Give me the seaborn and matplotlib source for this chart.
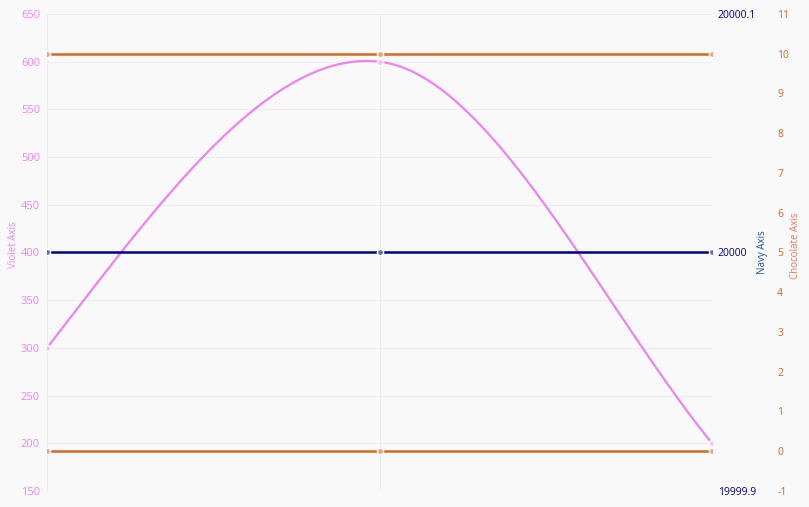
import numpy as np
import pandas as pd
import matplotlib
matplotlib.use("Agg")
import matplotlib.pyplot as plt
import seaborn as sns

# data
x_pos = [0, 1, 2]
violet_vals = [300, 600, 200]
navy_vals = [20000, 20000, 20000]
choc_top_vals = [10, 10, 10]
choc_bottom_vals = [0, 0, 0]

violet_ticks = list(range(150, 651, 50))
navy_ticks = [19999.9, 20000, 20000.1]
choc_ticks = list(range(-1, 12))

VIOLET = "#ee82ee"
NAVY = "#000080"
CHOC = "#d2691e"
BG = "#f9f9f9"
GRID = "#ececec"
# tangents used to draw the smoothed violet line (style of the curve)
CURVE_TANGENTS = [450, -40, -430]

sns.set_style("white")
plt.rcParams['font.family'] = ['Open Sans', 'DejaVu Sans']


def smooth_curve(xs, ys, tangents, n=80):
    # cubic Hermite pieces through the data points, only for drawing
    cx, cy = [], []
    for i in range(len(xs) - 1):
        h = xs[i + 1] - xs[i]
        t = np.linspace(0, 1, n)
        h00 = 2 * t**3 - 3 * t**2 + 1
        h10 = t**3 - 2 * t**2 + t
        h01 = -2 * t**3 + 3 * t**2
        h11 = t**3 - t**2
        cx.extend(xs[i] + t * h)
        cy.extend(h00 * ys[i] + h10 * h * tangents[i] + h01 * ys[i + 1] + h11 * h * tangents[i + 1])
    return pd.DataFrame({'x': cx, 'y': cy})


marker_kw = dict(marker='o', markersize=4.5, markeredgewidth=1, markeredgecolor='white')

fig = plt.figure(figsize=(8.09, 5.07), dpi=100, facecolor=BG)
ax = fig.add_axes([47 / 809, 1 - 491 / 507, 665 / 809, 477 / 507])
ax.set_facecolor(BG)
ax2 = ax.twinx()
ax3 = ax.twinx()

# violet series
curve = smooth_curve(x_pos, violet_vals, CURVE_TANGENTS)
sns.lineplot(data=curve, x='x', y='y', ax=ax, color=VIOLET, linewidth=1.6, sort=False)
ax.plot(x_pos, violet_vals, linestyle='none', color=VIOLET, markerfacecolor='#f6c0f6',
        zorder=5, **marker_kw)

# navy series
sns.lineplot(x=x_pos, y=navy_vals, ax=ax2, color=NAVY, linewidth=1.8,
             markerfacecolor='#6a6ab8', **marker_kw)

# chocolate series
for vals in (choc_top_vals, choc_bottom_vals):
    sns.lineplot(x=x_pos, y=vals, ax=ax3, color=CHOC, linewidth=1.8,
                 markerfacecolor='#e8a47a', **marker_kw)

ax.set_xlim(0, 2)
ax.set_ylim(150, 650)
ax2.set_ylim(19999.9, 20000.1)
ax3.set_ylim(-1, 11)

ax.set_xticks(x_pos)
ax.set_xticklabels([])
ax.set_yticks(violet_ticks)
ax.set_yticklabels([str(v) for v in violet_ticks])
ax2.set_yticks(navy_ticks)
ax2.set_yticklabels(['19999.9', '20000', '20000.1'])
ax3.set_yticks(choc_ticks)
ax3.set_yticklabels([str(v) for v in choc_ticks])

ax.grid(True, color=GRID, linewidth=0.8)
ax.set_axisbelow(True)

for a in (ax, ax2, ax3):
    for sp in a.spines.values():
        sp.set_visible(False)
    a.set_xlabel('')
    a.set_ylabel('')

ax.tick_params(axis='x', length=0)
ax.tick_params(axis='y', length=0, pad=5, labelsize=8, labelcolor=VIOLET)
ax2.tick_params(axis='y', length=0, pad=4, labelsize=7.5, labelcolor=NAVY)
ax3.spines['right'].set_position(('outward', 44))
ax3.tick_params(axis='y', length=0, pad=3, labelsize=7.5, labelcolor=CHOC)

fig.text(14 / 809, 1 - 245 / 507, 'Violet Axis', rotation=90, color=VIOLET,
         fontsize=7, ha='center', va='center')
fig.text(762 / 809, 1 - 252 / 507, 'Navy Axis', rotation=90, color='#1a4f9c',
         fontsize=7, ha='center', va='center')
fig.text(795 / 809, 1 - 246 / 507, 'Chocolate Axis', rotation=90, color='#dd7b5a',
         fontsize=7, ha='center', va='center')

fig.savefig('out.png', dpi=100, facecolor=BG)
